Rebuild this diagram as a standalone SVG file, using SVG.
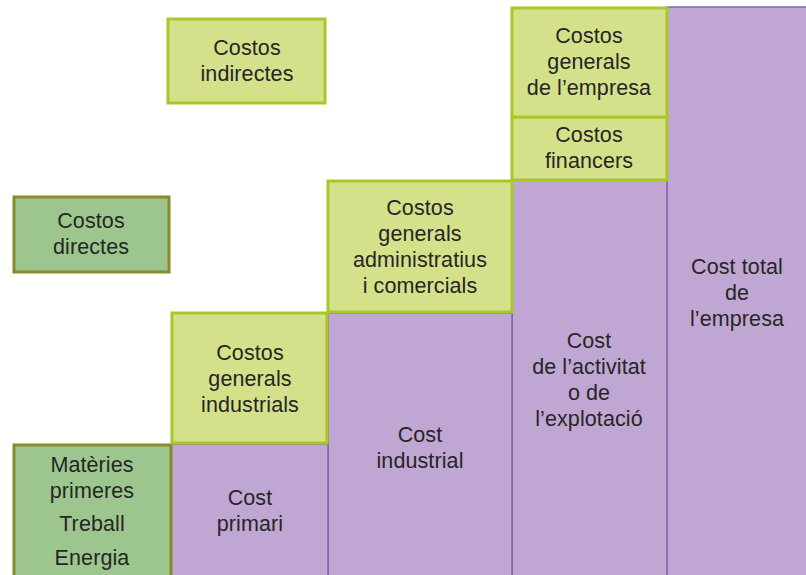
<svg xmlns="http://www.w3.org/2000/svg" width="806" height="575" viewBox="0 0 806 575">
<style>
.lime{fill:#d4e08a;stroke:#a8c828;stroke-width:3}
.purp{fill:#c0a6d2;stroke:#8d5fae;stroke-width:1.5}
.grn{fill:#9dc68e;stroke:#8a8a2c;stroke-width:3}
text{font-family:"Liberation Sans",Arial,sans-serif;font-size:21.5px;fill:#262626;text-anchor:middle;letter-spacing:0.1px}
</style>
<rect width="806" height="575" fill="#fff"/>
<g id="cost-total">
<rect class="purp" x="667" y="7" width="142" height="570"/>
<text x="737" y="274">Cost total</text>
<text x="737" y="300">de</text>
<text x="737" y="326">l’empresa</text>
</g>
<g id="cost-activitat">
<rect class="purp" x="512" y="180" width="155" height="397"/>
<text x="589" y="348">Cost</text>
<text x="589" y="374">de l’activitat</text>
<text x="589" y="400">o de</text>
<text x="589" y="426">l’explotació</text>
</g>
<g id="cost-industrial">
<rect class="purp" x="328" y="313" width="184" height="264"/>
<text x="420" y="442">Cost</text>
<text x="420" y="468">industrial</text>
</g>
<g id="cost-primari">
<rect class="purp" x="171" y="444" width="157" height="133"/>
<text x="250" y="505">Cost</text>
<text x="250" y="531">primari</text>
</g>
<g id="costos-indirectes">
<rect class="lime" x="168" y="19" width="157" height="84"/>
<text x="247" y="55">Costos</text>
<text x="247" y="81">indirectes</text>
</g>
<g id="costos-directes">
<rect class="grn" x="14" y="197" width="155" height="75"/>
<text x="91" y="228">Costos</text>
<text x="91" y="254">directes</text>
</g>
<g id="materies">
<rect class="grn" x="14" y="445" width="157" height="134"/>
<text x="92" y="472">Matèries</text>
<text x="92" y="498">primeres</text>
<text x="92" y="531">Treball</text>
<text x="92" y="565">Energia</text>
</g>
<g id="costos-generals-industrials">
<rect class="lime" x="172" y="313" width="155" height="130"/>
<text x="250" y="360">Costos</text>
<text x="250" y="386">generals</text>
<text x="250" y="412">industrials</text>
</g>
<g id="costos-generals-administratius">
<rect class="lime" x="328" y="181" width="184" height="131"/>
<text x="420" y="215">Costos</text>
<text x="420" y="241">generals</text>
<text x="420" y="267">administratius</text>
<text x="420" y="293">i comercials</text>
</g>
<g id="costos-financers">
<rect class="lime" x="512" y="117" width="155" height="63"/>
<text x="589" y="142">Costos</text>
<text x="589" y="168">financers</text>
</g>
<g id="costos-generals-empresa">
<rect class="lime" x="512" y="8" width="155" height="109"/>
<text x="589" y="43">Costos</text>
<text x="589" y="69">generals</text>
<text x="589" y="95">de l’empresa</text>
</g>
<g id="connectors"></g>
</svg>
